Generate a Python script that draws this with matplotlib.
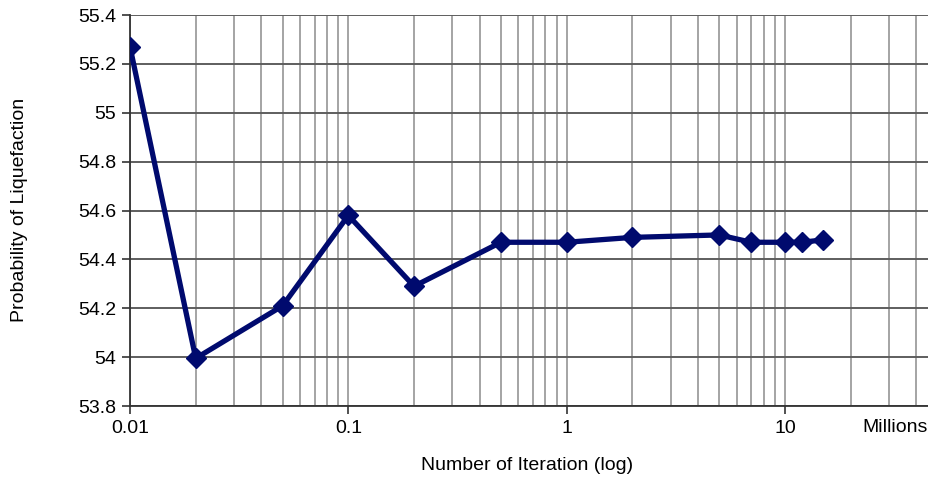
import matplotlib
matplotlib.use("Agg")

import numpy as np
import matplotlib.pyplot as plt
from matplotlib.ticker import LogLocator, FixedLocator, NullFormatter

plt.rcParams["font.family"] = ["Liberation Sans", "DejaVu Sans"]

# ── Data ────────────────────────────────────────────────────────────
iterations = [0.01, 0.02, 0.05, 0.1, 0.2, 0.5, 1, 2, 5, 7, 10, 12, 15]   # millions
prob_liq = [55.27, 53.995, 54.21, 54.58, 54.29, 54.47, 54.47, 54.49,
            54.50, 54.47, 54.47, 54.47, 54.48]
x_ticks = [0.01, 0.1, 1, 10]
x_tick_labels = ["0.01", "0.1", "1", "10"]
y_ticks = [53.8, 54.0, 54.2, 54.4, 54.6, 54.8, 55.0, 55.2, 55.4]
y_tick_labels = ["53.8", "54", "54.2", "54.4", "54.6", "54.8", "55", "55.2", "55.4"]

LINE_COLOR = "#000a6e"
FS = 14

fig = plt.figure(figsize=(9.29, 4.82), dpi=100)
ax = fig.add_axes([130 / 929, 1 - 406 / 482, 1 - 130 / 929, (406 - 15) / 482])

ax.set_xscale("log")
x_right = 10 ** (1 + (929 - 785) / 218.3)
ax.set_xlim(0.01, x_right)
ax.set_ylim(53.8, 55.4)

# grid: horizontal lines darker, vertical (decades + minor) lighter
ax.xaxis.set_major_locator(FixedLocator(x_ticks))
ax.set_xticklabels(x_tick_labels)
ax.xaxis.set_minor_locator(LogLocator(base=10, subs=np.arange(2, 10)))
ax.xaxis.set_minor_formatter(NullFormatter())
ax.set_yticks(y_ticks)
ax.set_yticklabels(y_tick_labels)

ax.grid(True, which="major", axis="y", color="#5e5e5e", linewidth=1.4)
ax.grid(True, which="both", axis="x", color="#959595", linewidth=1.2)
ax.set_axisbelow(True)

ax.plot(iterations, prob_liq, color=LINE_COLOR, linewidth=3.8,
        marker="D", markersize=10, markerfacecolor=LINE_COLOR,
        markeredgecolor=LINE_COLOR, zorder=3)

for side in ["top", "right"]:
    ax.spines[side].set_visible(False)
for side in ["left", "bottom"]:
    ax.spines[side].set_color("#333333")
    ax.spines[side].set_linewidth(1.3)

ax.tick_params(axis="both", which="major", length=6, width=1.2, color="#333333",
               labelsize=FS, labelcolor="black")
ax.tick_params(axis="x", which="minor", length=0)
ax.tick_params(axis="x", pad=4)
ax.tick_params(axis="y", pad=4)

fig.text(895 / 929, 1 - 427 / 482, "Millions", ha="center", va="center",
         fontsize=FS)
fig.text(20 / 929, 1 - 210 / 482, "Probability of Liquefaction", rotation=90,
         ha="center", va="center", fontsize=FS)
fig.text(527 / 929, 1 - 465 / 482, "Number of Iteration (log)",
         ha="center", va="center", fontsize=FS)

fig.savefig("out.png", dpi=100)
